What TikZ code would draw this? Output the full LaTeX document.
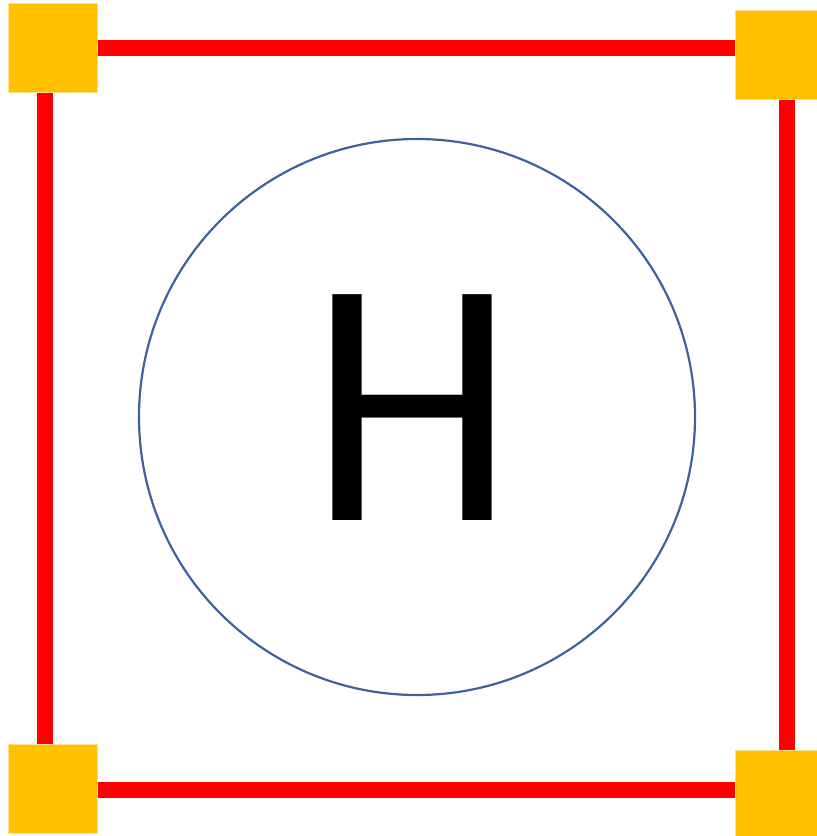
\documentclass[tikz,border=0pt]{standalone}
\usepackage{fontspec}
\setmainfont{Carlito}
\usetikzlibrary{backgrounds}
\definecolor{corner}{HTML}{FFC000}
\definecolor{cornerline}{HTML}{FFE08A}
\definecolor{wire}{HTML}{FF0000}
\definecolor{ring}{RGB}{65,96,160}
\begin{document}
\begin{tikzpicture}[x=1pt,y=-1pt,
  cornerbox/.style={rectangle, fill=corner, draw=cornerline, line width=1pt, inner sep=0pt, minimum size=89pt},
  redwire/.style={draw=wire, line width=16pt, line cap=butt},
  ringnode/.style={circle, draw=ring, line width=2.2pt, inner sep=0pt, minimum size=556pt}]
\useasboundingbox (0,0) rectangle (817,836);
\node[cornerbox] (TL) at (53,48) {};
\node[cornerbox] (TR) at (780,54.5) {};
\node[cornerbox] (BL) at (53,788.5) {};
\node[cornerbox] (BR) at (780,795) {};
\begin{scope}[on background layer]
\draw[redwire] (TL.east) -- (TL.east -| TR.west);
\draw[redwire] ([xshift=-8pt]TL.south) -- ([xshift=-8pt]TL.south |- BL.north);
\draw[redwire] ([xshift=7pt]TR.south) -- ([xshift=7pt]TR.south |- BR.north);
\draw[redwire] ([yshift=-1.5pt]BL.east) -- ([yshift=-1.5pt]BL.east -| BR.west);
\end{scope}
\node[ringnode] (C) at (417,417) {};
\node[anchor=base, inner sep=0pt, font=\fontsize{352}{352}\selectfont] (H) at (412,520.7) {\scalebox{0.93}[1]{H}};
\end{tikzpicture}
\end{document}
